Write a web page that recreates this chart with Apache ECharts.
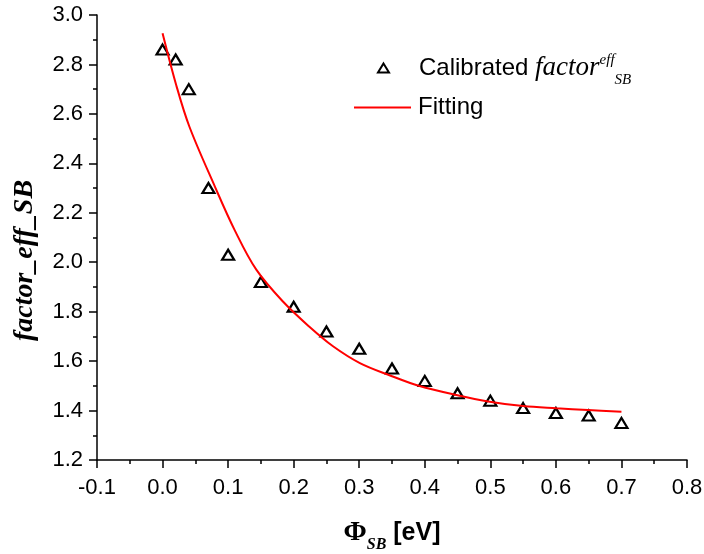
<!DOCTYPE html>
<html>
<head>
<meta charset="utf-8">
<script src="https://cdn.jsdelivr.net/npm/echarts@6/dist/echarts.min.js"></script>
<style>
html,body{margin:0;padding:0;background:#fff;}
#chart{width:704px;height:554px;}
</style>
</head>
<body>
<div id="chart"></div>
<script>
// Calibrated data points
const calX = [0, 0.02, 0.04, 0.07, 0.1, 0.15, 0.2, 0.25, 0.3, 0.35, 0.4, 0.45, 0.5, 0.55, 0.6, 0.65, 0.7];
const calY = [2.86, 2.82, 2.70, 2.30, 2.03, 1.92, 1.82, 1.72, 1.65, 1.57, 1.52, 1.47, 1.44, 1.41, 1.39, 1.38, 1.35];
// Fitting curve points
const fitX = [0, 0.021, 0.041, 0.08, 0.11, 0.143, 0.184, 0.224, 0.26, 0.301, 0.347, 0.392, 0.448, 0.499, 0.55, 0.601, 0.649, 0.7];
const fitY = [2.926, 2.715, 2.548, 2.305, 2.130, 1.97, 1.84, 1.739, 1.66, 1.592, 1.542, 1.499, 1.463, 1.436, 1.418, 1.409, 1.402, 1.395];
// Axis settings
const xMin = -0.1, xMax = 0.8, xStep = 0.1;
const yMin = 1.2, yMax = 3.0, yStep = 0.2;

const SANS = 'Liberation Sans, Arial, sans-serif';
const SERIF = 'Liberation Serif, Times New Roman, serif';

const chart = echarts.init(document.getElementById('chart'), null, {renderer: 'canvas'});
const axisCommon = {
  axisLine: {show: true, onZero: false, lineStyle: {color: '#000', width: 1.5}},
  axisTick: {show: true, inside: false, length: 8, lineStyle: {color: '#000', width: 1.5}},
  minorTick: {show: true, splitNumber: 2, length: 4, lineStyle: {color: '#000', width: 1.5}},
  splitLine: {show: false},
};
chart.setOption({
  animation: false,
  backgroundColor: '#fff',
  grid: {left: 97, right: 17, top: 15, bottom: 94, containLabel: false, outerBoundsMode: 'none'},
  xAxis: Object.assign({
    type: 'value', min: xMin, max: xMax, interval: xStep,
    axisLabel: {color: '#000', fontFamily: SANS, fontSize: 22, margin: 17,
      formatter: v => v.toFixed(1)},
    name: '{phi|Φ}{sub|SB}{t| [eV]}',
    nameLocation: 'middle', nameGap: 53,
    nameTextStyle: {
      rich: {
        phi: {fontFamily: SERIF, fontWeight: 'bold', fontSize: 28, color: '#000', lineHeight: 40, verticalAlign: 'middle'},
        sub: {fontFamily: SERIF, fontWeight: 'bold', fontStyle: 'italic', fontSize: 16, color: '#000', lineHeight: 2, verticalAlign: 'bottom'},
        t: {fontFamily: SANS, fontWeight: 'bold', fontSize: 25, color: '#000', lineHeight: 40, verticalAlign: 'middle'}
      }
    }
  }, axisCommon),
  yAxis: Object.assign({
    type: 'value', min: yMin, max: yMax, interval: yStep,
    axisLabel: {color: '#000', fontFamily: SANS, fontSize: 22, margin: 14,
      formatter: v => v.toFixed(1)},
    name: 'factor_eff_SB',
    nameLocation: 'middle', nameGap: 58,
    nameTextStyle: {fontFamily: SERIF, fontWeight: 'bold', fontStyle: 'italic', fontSize: 28, color: '#000',
      padding: [0, 46, 0, 0]}
  }, axisCommon),
  legend: [
    {
      data: [{name: 'Calibrated', icon: 'triangle'}], orient: 'vertical', left: 377, top: 48, padding: 0,
      itemWidth: 11, itemHeight: 9, selectedMode: false,
      itemStyle: {color: 'rgba(255,255,255,0)', borderColor: '#000', borderWidth: 2},
      formatter: () => '{a|Calibrated }{b|factor}{c|eff}{d|SB}',
      textStyle: {
        rich: {
          a: {fontFamily: SANS, fontSize: 24, color: '#000', lineHeight: 40, verticalAlign: 'middle', padding: [0, 0, 0, 25]},
          b: {fontFamily: SERIF, fontStyle: 'italic', fontSize: 27, color: '#000', lineHeight: 40, verticalAlign: 'middle'},
          c: {fontFamily: SERIF, fontStyle: 'italic', fontSize: 15, color: '#000', lineHeight: 15, verticalAlign: 'top', padding: [5, 0, 0, 0]},
          d: {fontFamily: SERIF, fontStyle: 'italic', fontSize: 15, color: '#000', lineHeight: 4, verticalAlign: 'bottom'}
        }
      }
    },
    {
      data: [{name: 'Fitting', icon: 'rect'}], orient: 'vertical', left: 354, top: 94.5, padding: 0,
      itemWidth: 57, itemHeight: 2, selectedMode: false,
      itemStyle: {color: '#ff0000'},
      textStyle: {fontFamily: SANS, fontSize: 24, color: '#000', lineHeight: 26, padding: [0, 0, 0, 2]}
    }
  ],
  series: [
    {
      name: 'Calibrated', type: 'scatter',
      data: calX.map((x, i) => [x, calY[i]]),
      symbol: 'triangle', symbolSize: [12, 10],
      itemStyle: {color: 'rgba(255,255,255,0)', borderColor: '#000', borderWidth: 2.2, opacity: 1},
      z: 2
    },
    {
      name: 'Fitting', type: 'line',
      data: fitX.map((x, i) => [x, fitY[i]]),
      smooth: 0.35,
      showSymbol: false, symbol: 'none',
      lineStyle: {color: '#ff0000', width: 2},
      itemStyle: {color: '#ff0000'},
      z: 3
    }
  ]
});
</script>
</body>
</html>
